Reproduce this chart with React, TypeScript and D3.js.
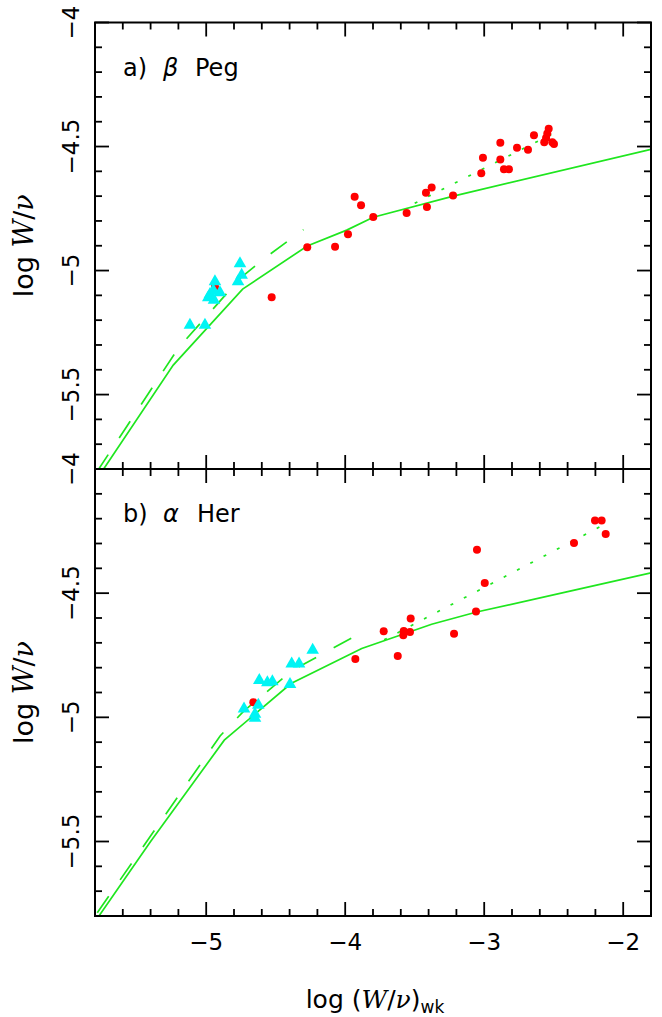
import React from 'react';
import * as d3 from 'd3';

// ---------- data ----------
const xDomain = [-5.8, -1.8];
const yDomain = [-4, -5.8];
const xTickLabels = [-5, -4, -3, -2];
const yTickLabels = [-4, -4.5, -5, -5.5];

// panel a) beta Peg
const pegRedX = [-4.273, -4.073, -3.98, -3.932, -3.886, -3.798, -3.558, -3.419, -3.378, -3.412, -3.224, -3.021, -3.009, -2.884, -2.884, -2.858, -2.822, -2.764, -2.685, -2.642, -2.536, -2.546, -2.555, -2.568, -2.51, -2.498, -4.529, -4.937];
const pegRedY = [-4.906, -4.904, -4.854, -4.702, -4.737, -4.784, -4.768, -4.686, -4.665, -4.744, -4.697, -4.608, -4.545, -4.485, -4.552, -4.592, -4.592, -4.505, -4.513, -4.455, -4.428, -4.447, -4.466, -4.483, -4.483, -4.49, -5.108, -5.065];
const pegBlueX = [-4.757, -4.745, -4.771, -4.937, -4.901, -4.973, -4.949, -4.944, -4.985, -5.117, -5.009];
const pegBlueY = [-4.969, -5.015, -5.041, -5.041, -5.085, -5.092, -5.076, -5.116, -5.106, -5.216, -5.216];
const pegSolidX = [-5.8, -5.237, -4.738, -4.273, -3.989, -3.798, -3.222, -1.8];
const pegSolidY = [-5.852, -5.381, -5.075, -4.901, -4.837, -4.785, -4.7, -4.511];
const pegDashX = [-5.8, -5.2, -4.75, -4.56, -4.3];
const pegDashY = [-5.823, -5.312, -5.028, -4.942, -4.835];
const pegDotX = [-3.5, -2.47];
const pegDotY = [-4.729, -4.438];

// panel b) alpha Her
const herRedX = [-4.661, -3.927, -3.723, -3.622, -3.582, -3.579, -3.534, -3.529, -3.217, -3.059, -2.996, -3.052, -2.354, -2.203, -2.155, -2.126];
const herRedY = [-4.939, -4.765, -4.653, -4.753, -4.669, -4.652, -4.656, -4.602, -4.663, -4.574, -4.459, -4.325, -4.298, -4.207, -4.207, -4.262];
const herBlueX = [-4.234, -4.385, -4.332, -4.397, -4.618, -4.56, -4.524, -4.728, -4.625, -4.649, -4.649];
const herBlueY = [-4.726, -4.781, -4.781, -4.864, -4.848, -4.857, -4.853, -4.962, -4.947, -4.984, -5.0];
const herSolidX = [-5.8, -5.4, -4.87, -4.39, -3.881, -3.378, -3.054, -2.359, -1.8];
const herSolidY = [-5.823, -5.5, -5.092, -4.864, -4.723, -4.625, -4.576, -4.489, -4.418];
const herDashX = [-5.8, -4.9, -4.73, -4.38, -3.84];
const herDashY = [-5.8, -5.075, -4.975, -4.811, -4.646];
const herDotX = [-3.72, -2.1];
const herDotY = [-4.688, -4.213];

// ---------- layout ----------
const W = 662;
const H = 1017;
const LEFT = 95;
const RIGHT = 651;
const FONT = 'DejaVu Sans, sans-serif';
const SERIF = 'DejaVu Serif, serif';
const GREEN = '#1fe61f';
const RED = '#ff0000';
const CYAN = '#00f4f4';

const fmt = (v: number) => (v < 0 ? '\u2212' : '') + String(Math.abs(v));

const zip = (xs: number[], ys: number[]) => xs.map((x, i) => [x, ys[i]] as [number, number]);

type PanelProps = {
  id: string;
  top: number;
  bottom: number;
  redX: number[]; redY: number[];
  blueX: number[]; blueY: number[];
  solidX: number[]; solidY: number[];
  dashX: number[]; dashY: number[];
  dotX: number[]; dotY: number[];
  labelA: string; labelGreek: string; labelStar: string;
  starOffset: number;
};

function Panel(p: PanelProps) {
  const x = d3.scaleLinear().domain(xDomain).range([LEFT, RIGHT]);
  const y = d3.scaleLinear().domain(yDomain).range([p.top, p.bottom]);
  const line = d3.line<[number, number]>().x(d => x(d[0])).y(d => y(d[1]));

  const xMinor = d3.range(0, 21).map(i => +(xDomain[0] + i * 0.2).toFixed(2));
  const yMinor = d3.range(0, 19).map(i => +(yDomain[0] - i * 0.1).toFixed(2));
  const isMajorX = (v: number) => Math.abs(v - Math.round(v)) < 1e-6;
  const isMajorY = (v: number) => Math.abs(v * 2 - Math.round(v * 2)) < 1e-6;
  const MAJ = 14, MIN = 7;
  const tickStyle = { stroke: '#000', strokeWidth: 1.8 };

  const tri = (cx: number, cy: number) => `M${cx},${cy - 6.5}L${cx + 6.3},${cy + 4.5}L${cx - 6.3},${cy + 4.5}Z`;

  return (
    <g>
      <defs>
        <clipPath id={p.id}>
          <rect x={LEFT} y={p.top} width={RIGHT - LEFT} height={p.bottom - p.top} />
        </clipPath>
      </defs>
      <g clipPath={`url(#${p.id})`}>
        <path d={line(zip(p.solidX, p.solidY)) || ''} fill="none" stroke={GREEN} strokeWidth={1.7} />
        <path d={line(zip(p.dashX, p.dashY)) || ''} fill="none" stroke={GREEN} strokeWidth={1.7} strokeDasharray="20 20" strokeDashoffset={-4} />
        <path d={line(zip(p.dotX, p.dotY)) || ''} fill="none" stroke={GREEN} strokeWidth={1.7} strokeDasharray="3 12" />
        {p.redX.map((v, i) => (
          <circle key={'r' + i} cx={x(v)} cy={y(p.redY[i])} r={4} fill={RED} />
        ))}
        {p.blueX.map((v, i) => (
          <path key={'b' + i} d={tri(x(v), y(p.blueY[i]))} fill={CYAN} />
        ))}
      </g>
      <rect x={LEFT} y={p.top} width={RIGHT - LEFT} height={p.bottom - p.top} fill="none" stroke="#000" strokeWidth={2} />
      {xMinor.map((v, i) => {
        const len = isMajorX(v) ? MAJ : MIN;
        return (
          <g key={'xt' + i}>
            <line x1={x(v)} x2={x(v)} y1={p.top} y2={p.top + len} {...tickStyle} />
            <line x1={x(v)} x2={x(v)} y1={p.bottom} y2={p.bottom - len} {...tickStyle} />
          </g>
        );
      })}
      {yMinor.map((v, i) => {
        const len = isMajorY(v) ? MAJ : MIN;
        return (
          <g key={'yt' + i}>
            <line x1={LEFT} x2={LEFT + len} y1={y(v)} y2={y(v)} {...tickStyle} />
            <line x1={RIGHT} x2={RIGHT - len} y1={y(v)} y2={y(v)} {...tickStyle} />
          </g>
        );
      })}
      {yTickLabels.map((v, i) => (
        <text key={'yl' + i} transform={`translate(79,${y(v)}) rotate(-90)`} textAnchor="middle" fontFamily={FONT} fontSize={23}>
          {fmt(v)}
        </text>
      ))}
      <text transform={`translate(33,${(p.top + p.bottom) / 2}) rotate(-90)`} textAnchor="middle" fontFamily={FONT} fontSize={27}>
        log <tspan fontFamily={SERIF} fontStyle="italic">W</tspan>/<tspan fontFamily={SERIF} fontStyle="italic">ν</tspan>
      </text>
      <text x={123} y={p.top + 53} fontFamily={FONT} fontSize={24}>{p.labelA}</text>
      <text x={163} y={p.top + 53} fontFamily={FONT} fontSize={24} fontStyle="italic">{p.labelGreek}</text>
      <text x={p.starOffset} y={p.top + 53} fontFamily={FONT} fontSize={24}>{p.labelStar}</text>
    </g>
  );
}

export default function App() {
  const x = d3.scaleLinear().domain(xDomain).range([LEFT, RIGHT]);
  return (
    <svg width={W} height={H} style={{ position: 'absolute', left: 0, top: 0, background: '#fff' }}>
      <rect x={0} y={0} width={W} height={H} fill="#fff" />
      <Panel id="clipA" top={22.5} bottom={469}
        redX={pegRedX} redY={pegRedY} blueX={pegBlueX} blueY={pegBlueY}
        solidX={pegSolidX} solidY={pegSolidY} dashX={pegDashX} dashY={pegDashY} dotX={pegDotX} dotY={pegDotY}
        labelA="a)" labelGreek="β" labelStar="Peg" starOffset={195} />
      <Panel id="clipB" top={469} bottom={916}
        redX={herRedX} redY={herRedY} blueX={herBlueX} blueY={herBlueY}
        solidX={herSolidX} solidY={herSolidY} dashX={herDashX} dashY={herDashY} dotX={herDotX} dotY={herDotY}
        labelA="b)" labelGreek="α" labelStar="Her" starOffset={197} />
      {xTickLabels.map((v, i) => (
        <text key={'xl' + i} x={x(v)} y={950} textAnchor="middle" fontFamily={FONT} fontSize={23}>
          {fmt(v)}
        </text>
      ))}
      <text x={375} y={1008} textAnchor="middle" fontFamily={FONT} fontSize={25}>
        log (<tspan fontFamily={SERIF} fontStyle="italic">W</tspan>/<tspan fontFamily={SERIF} fontStyle="italic">ν</tspan>)<tspan fontSize={17} dy={5}>wk</tspan>
      </text>
    </svg>
  );
}
